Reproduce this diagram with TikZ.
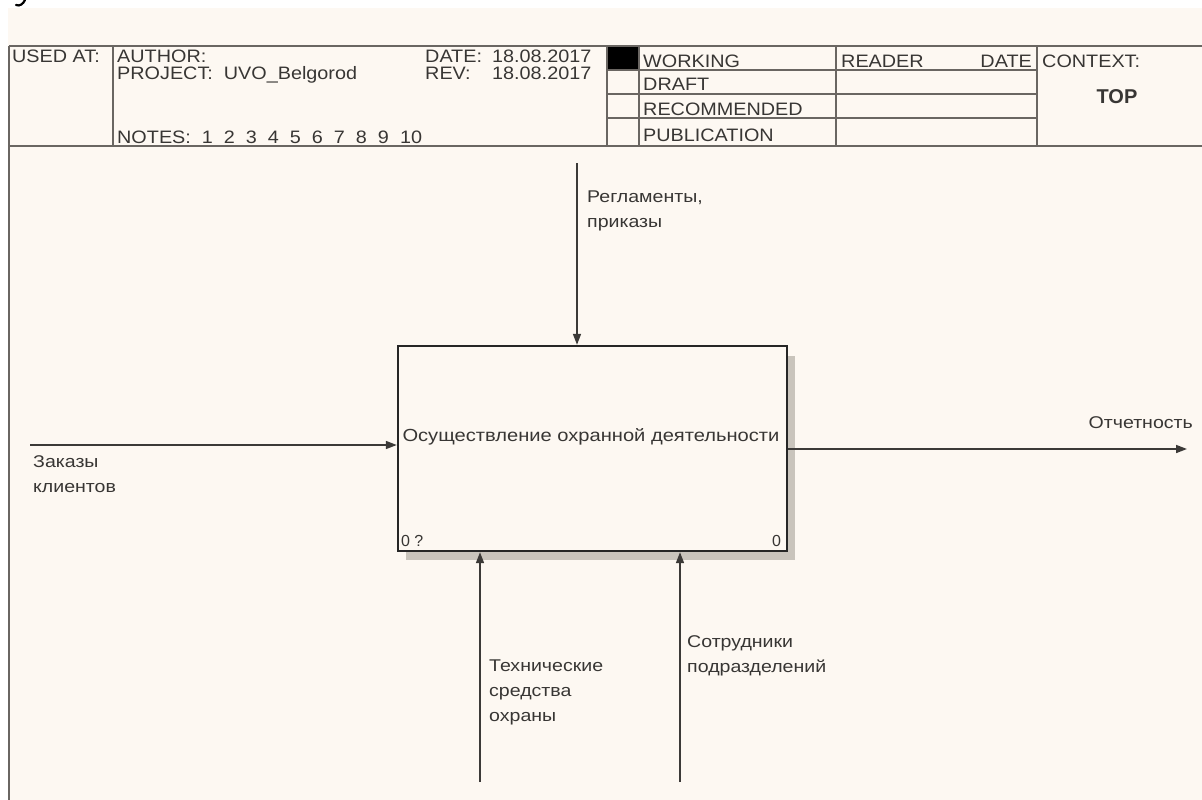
\documentclass[tikz,border=0pt]{standalone}
\usepackage{fontspec}
\setmainfont{Liberation Sans}
\newfontfamily\lblfont{Liberation Sans}[FakeStretch=1.15]
\newfontfamily\hdrfont{Liberation Sans}[FakeStretch=1.1]
\usetikzlibrary{arrows.meta}
\definecolor{cream}{HTML}{FDF8F2}
\definecolor{framegray}{HTML}{6A6662}
\definecolor{linegray}{HTML}{3C3A38}
\definecolor{txt}{HTML}{383634}
\definecolor{shadowgray}{HTML}{C9C4BC}
\tikzset{
  frameline/.style={draw=framegray, line width=1.6pt},
  hdr/.style={font=\hdrfont\fontsize{18}{21}\selectfont, text=txt, inner sep=0pt, anchor=base west},
  lbl/.style={font=\lblfont\fontsize{17}{25}\selectfont, text=txt, inner sep=0pt, align=left, anchor=north west},
  flow/.style={draw=linegray, line width=1.6pt, -{Triangle[length=11pt,width=8pt]}},
  actbox/.style={draw=black!85, line width=2.4pt, fill=cream, minimum width=389pt, minimum height=205pt, inner sep=0pt},
  cornum/.style={font=\fontsize{16}{19}\selectfont, text=txt, inner sep=0pt}
}
\begin{document}
\begin{tikzpicture}[x=1pt,y=-1pt]
\useasboundingbox (0,0) rectangle (1202,800);
\fill[white] (0,0) rectangle (1202,800);
\fill[cream] (8,8) rectangle (1202,800);
% fragment of a letter at the top edge
\draw[black, line width=2.2pt, line cap=round] (25,0) .. controls (23,4) and (20,6.5) .. (16,5);
% frame
\draw[frameline] (9,46) -- (1202,46);
\draw[frameline] (9,146) -- (1202,146);
\draw[frameline] (9,46) -- (9,800);
\draw[frameline] (113,46) -- (113,146);
\draw[frameline] (607,46) -- (607,146);
\draw[frameline] (639,46) -- (639,146);
\draw[frameline] (836,46) -- (836,146);
\draw[frameline] (1037,46) -- (1037,146);
\draw[frameline] (607,70) -- (1037,70);
\draw[frameline] (607,94) -- (1037,94);
\draw[frameline] (607,118) -- (1037,118);
\fill[black] (608,47) rectangle (638,69.5);
% header texts
\node[hdr] (usedat) at (12,63) {USED AT:};
\node[hdr] (author) at (117,63) {AUTHOR:};
\node[hdr] (project) at (117,80) {PROJECT:\ \ UVO\_Belgorod};
\node[hdr] (notes) at (117,143) {NOTES:\ \ 1\ \ 2\ \ 3\ \ 4\ \ 5\ \ 6\ \ 7\ \ 8\ \ 9\ \ 10};
\node[hdr] (datek) at (425,63) {DATE:};
\node[hdr] (datev) at (492,63) {18.08.2017};
\node[hdr] (revk) at (425,80) {REV:};
\node[hdr] (revv) at (492,80) {18.08.2017};
\node[hdr] (working) at (643,67) {WORKING};
\node[hdr] (draft) at (643,91) {DRAFT};
\node[hdr] (recom) at (643,115) {RECOMMENDED};
\node[hdr] (publ) at (643,141) {PUBLICATION};
\node[hdr] (reader) at (841,67) {READER};
\node[hdr, anchor=base east] (rdate) at (1032,67) {DATE};
\node[hdr] (context) at (1042,67) {CONTEXT:};
\node[font=\bfseries\fontsize{20}{24}\selectfont, text=txt, inner sep=0pt] (top) at (1117,97) {TOP};
% activity box
\fill[shadowgray] (406,356) rectangle (795,560);
\node[actbox] (act) at (592.5,448.5) {};
\node[lbl, anchor=center, font=\lblfont\fontsize{17.5}{25}\selectfont] (acttxt) at (591,437) {Осуществление охранной деятельности};
\node[cornum, anchor=base west] (nl) at ([xshift=4pt,yshift=6pt]act.south west) {0 ?};
\node[cornum, anchor=base east] (nr) at ([xshift=-7pt,yshift=6pt]act.south east) {0};
% arrows
\coordinate (cS) at (577,163);
\draw[flow] (cS) -- (cS |- act.north);
\coordinate (iS) at (30,445);
\draw[flow] (iS) -- (iS -| act.west);
\coordinate (oE) at (1187,449);
\draw[flow] (act.east |- oE) -- (oE);
\coordinate (m1) at (480,782);
\draw[flow] (m1) -- (m1 |- act.south);
\coordinate (m2) at (680,782);
\draw[flow] (m2) -- (m2 |- act.south);
% labels
\node[lbl] (clbl) at (587,191) {Регламенты,\\приказы};
\node[lbl] (ilbl) at (33,455) {Заказы\\клиентов};
\node[lbl, anchor=east] (olbl) at (1193,423) {Отчетность};
\node[lbl] (m1lbl) at (489,660) {Технические\\средства\\охраны};
\node[lbl] (m2lbl) at (687,635) {Сотрудники\\подразделений};
\end{tikzpicture}
\end{document}
